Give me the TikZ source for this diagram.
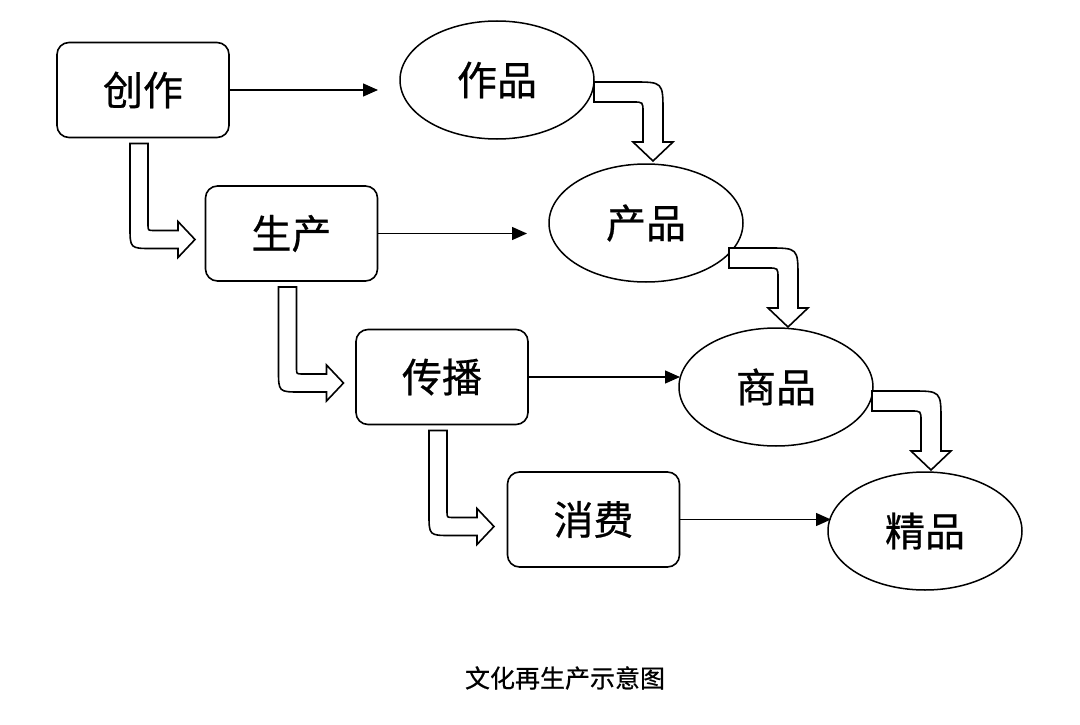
\documentclass[tikz,border=0pt]{standalone}
\usepackage{fontspec}
\newfontfamily\cjk[FakeBold=0.6]{Noto Sans CJK SC}
\usetikzlibrary{shapes.geometric,arrows.meta,calc}
\tikzset{
  stagebox/.style={draw, line width=1.6pt, rounded corners=12pt, minimum width=172pt, minimum height=95pt, inner sep=0pt, outer sep=0pt, font=\cjk\fontsize{40}{44}\selectfont},
  worknode/.style={draw, ellipse, line width=1.5pt, minimum width=194pt, minimum height=118pt, inner sep=0pt, outer sep=0pt, font=\cjk\fontsize{40}{44}\selectfont},
  flowarrow/.style={line width=1.3pt, -{Triangle[length=15pt,width=13pt]}},
  hollow/.style={draw, line width=1.6pt, fill=white, line join=miter}
}
\begin{document}
\begin{tikzpicture}[x=1pt,y=-1pt]
\useasboundingbox[fill=white] (0,0) rectangle (1080,725);
% boxes
\node[stagebox] (cz) at (143,90) {\raisebox{-3pt}{创作}};
\node[stagebox] (sc) at (291.5,233.5) {\raisebox{-3pt}{生产}};
\node[stagebox] (cb) at (442,377) {\raisebox{-3pt}{传播}};
\node[stagebox] (xf) at (593.5,519.5) {\raisebox{-3pt}{消费}};
% ellipses
\node[worknode] (zp) at (497,80) {\raisebox{-3pt}{作品}};
\node[worknode] (cp) at (646,223) {\raisebox{-3pt}{产品}};
\node[worknode] (sp) at (776,387) {\raisebox{-3pt}{商品}};
\node[worknode] (jp) at (925,531) {\raisebox{-3pt}{精品}};
% straight arrows
\coordinate (t1) at ($(cz.east -| zp.west)+(-22,0)$);
\coordinate (t2) at ($(sc.east -| cp.west)+(-22,0)$);
\coordinate (t3) at ($(cb.east -| sp.west)+(1,0)$);
\coordinate (t4) at ($(xf.east -| jp.west)+(3,0)$);
\draw[flowarrow] (cz.east) -- (t1);
\draw[flowarrow] (sc.east) -- (t2);
\draw[flowarrow] (cb.east) -- (t3);
\draw[flowarrow] (xf.east) -- (t4);
% hollow arrows from boxes
\foreach \b in {cz,sc,cb}{
  \begin{scope}[shift={(\b.south west)}]
    \draw[hollow] (73,6) -- (73,89) .. controls (73,111) .. (95,111) -- (121,111) -- (121,120) -- (138,102) -- (121,84) -- (121,93) -- (97,93) .. controls (91,93) .. (91,87) -- (91,6) -- cycle;
  \end{scope}
}
% hollow arrows from ellipses
\foreach \sx/\sy in {594/82,729/248,872/391}{
  \begin{scope}[shift={(\sx,\sy)}]
    \draw[hollow] (0,0) -- (39,0) .. controls (69,0) .. (69,30) -- (69,60) -- (79,60) -- (59,79) -- (39,60) -- (49,60) -- (49,30) .. controls (49,20) .. (39,20) -- (0,20) -- cycle;
  \end{scope}
}
% caption
\node[font=\cjk\fontsize{25}{28}\selectfont] (cap) at (565,678) {文化再生产示意图};
\end{tikzpicture}
\end{document}
